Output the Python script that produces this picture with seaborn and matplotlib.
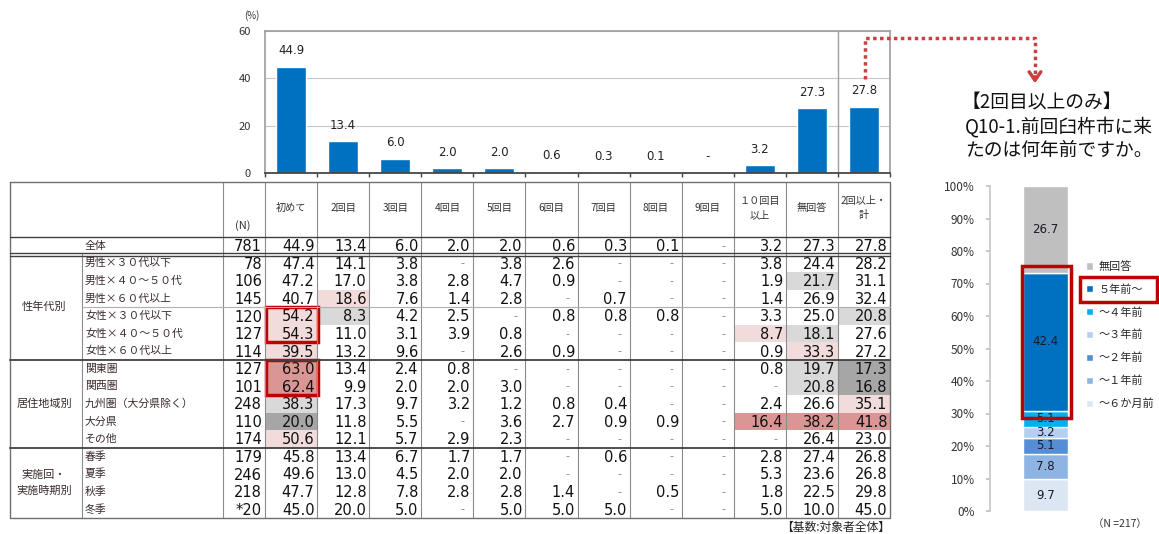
import numpy as np
import pandas as pd
import seaborn as sns
import matplotlib.pyplot as plt
from matplotlib.colors import ListedColormap
from matplotlib.patches import Rectangle

# Data
columns = ['初めて', '2回目', '3回目', '4回目', '5回目', '6回目', '7回目', '8回目',
           '9回目', '１０回目\n以上', '無回答', '2回以上・\n計']
row_labels = ['全体', '男性×３０代以下', '男性×４０～５０代', '男性×６０代以上',
              '女性×３０代以下', '女性×４０～５０代', '女性×６０代以上',
              '関東圏', '関西圏', '九州圏（大分県除く）', '大分県', 'その他',
              '春季', '夏季', '秋季', '冬季']
n_values = ['781', '78', '106', '145', '120', '127', '114',
            '127', '101', '248', '110', '174', '179', '246', '218', '*20']
group_labels = ['性年代別', '居住地域別', '実施回・\n実施時期別']
group_rows = [(1, 7), (7, 12), (12, 16)]

N = None
table_values = [
    [44.9, 13.4, 6.0, 2.0, 2.0, 0.6, 0.3, 0.1, N, 3.2, 27.3, 27.8],
    [47.4, 14.1, 3.8, N, 3.8, 2.6, N, N, N, 3.8, 24.4, 28.2],
    [47.2, 17.0, 3.8, 2.8, 4.7, 0.9, N, N, N, 1.9, 21.7, 31.1],
    [40.7, 18.6, 7.6, 1.4, 2.8, N, 0.7, N, N, 1.4, 26.9, 32.4],
    [54.2, 8.3, 4.2, 2.5, N, 0.8, 0.8, 0.8, N, 3.3, 25.0, 20.8],
    [54.3, 11.0, 3.1, 3.9, 0.8, N, N, N, N, 8.7, 18.1, 27.6],
    [39.5, 13.2, 9.6, N, 2.6, 0.9, N, N, N, 0.9, 33.3, 27.2],
    [63.0, 13.4, 2.4, 0.8, N, N, N, N, N, 0.8, 19.7, 17.3],
    [62.4, 9.9, 2.0, 2.0, 3.0, N, N, N, N, N, 20.8, 16.8],
    [38.3, 17.3, 9.7, 3.2, 1.2, 0.8, 0.4, N, N, 2.4, 26.6, 35.1],
    [20.0, 11.8, 5.5, N, 3.6, 2.7, 0.9, 0.9, N, 16.4, 38.2, 41.8],
    [50.6, 12.1, 5.7, 2.9, 2.3, N, N, N, N, N, 26.4, 23.0],
    [45.8, 13.4, 6.7, 1.7, 1.7, N, 0.6, N, N, 2.8, 27.4, 26.8],
    [49.6, 13.0, 4.5, 2.0, 2.0, N, N, N, N, 5.3, 23.6, 26.8],
    [47.7, 12.8, 7.8, 2.8, 2.8, 1.4, N, 0.5, N, 1.8, 22.5, 29.8],
    [45.0, 20.0, 5.0, N, 5.0, 5.0, 5.0, N, N, 5.0, 10.0, 45.0],
]

# shading codes: 1 light pink, 2 dark pink, 3 light gray, 4 dark gray
highlight_cells = [
    (3, 1, 1), (4, 0, 1), (4, 1, 3), (5, 0, 1), (5, 9, 1), (5, 10, 3),
    (6, 0, 1), (6, 10, 1), (2, 10, 3), (4, 11, 3),
    (7, 0, 2), (7, 10, 3), (7, 11, 4), (8, 0, 2), (8, 10, 3), (8, 11, 4),
    (9, 0, 3), (9, 11, 1), (10, 0, 4), (10, 9, 2), (10, 10, 2), (10, 11, 2),
    (11, 0, 1),
]
shade_colors = ['#ffffff', '#f2dcdb', '#d99694', '#d9d9d9', '#a6a6a6']

period_labels = ['～６か月前', '～１年前', '～２年前', '～３年前', '～４年前', '５年前～', '無回答']
period_values = [9.7, 7.8, 5.1, 3.2, 5.1, 42.4, 26.7]
period_colors = ['#dce6f2', '#8eb4e3', '#558ed5', '#b4d0f0', '#00b0f0', '#0070c0', '#bfbfbf']

W, H = 1159, 534


def box(x0, y0, x1, y1):
    return [x0 / W, 1 - y1 / H, (x1 - x0) / W, (y1 - y0) / H]


sns.set_theme(style='white')
plt.rcParams['font.family'] = ['Noto Sans CJK JP', 'DejaVu Sans']

fig = plt.figure(figsize=(W / 100, H / 100), dpi=100)

# Top bar chart (overall row)
overall = [v if v is not None else 0 for v in table_values[0]]
df_top = pd.DataFrame({'cat': columns, 'pct': overall})
ax_bar = fig.add_axes(box(265, 31, 890, 173))
sns.barplot(data=df_top, x='cat', y='pct', color='#0070c0', saturation=1,
            width=0.58, ax=ax_bar)
ax_bar.set_xlim(-0.5, 11.5)
ax_bar.set_ylim(0, 60)
ax_bar.set_yticks([0, 20, 40, 60])
ax_bar.set_xticks([])
ax_bar.set_xticks(np.arange(-0.5, 12, 1), minor=True)
ax_bar.tick_params(axis='x', which='minor', length=3, color='#404040', bottom=True)
ax_bar.tick_params(axis='y', labelsize=8, length=0, pad=10, labelcolor='#333333')
ax_bar.set_xlabel('')
ax_bar.set_ylabel('')
ax_bar.yaxis.grid(True, color='#c8c8c8', lw=0.8)
for side in ['left', 'right', 'top']:
    ax_bar.spines[side].set_color('#a0a0a0')
ax_bar.spines['bottom'].set_color('#404040')
ax_bar.axvline(10.5, color='#a0a0a0', lw=1)
for i, v in enumerate(table_values[0]):
    lab = '-' if v is None else f'{v:.1f}'
    ax_bar.annotate(lab, (i, v or 0), xytext=(0, 7), textcoords='offset points',
                    ha='center', va='bottom', fontsize=8.5, family='DejaVu Sans',
                    color='#222222')

# Table cells
codes = np.zeros((len(row_labels), len(columns)))
for r, c, k in highlight_cells:
    codes[r, c] = k
ax_tab = fig.add_axes(box(265, 237, 890, 518))
sns.heatmap(pd.DataFrame(codes), ax=ax_tab, cmap=ListedColormap(shade_colors),
            vmin=-0.5, vmax=4.5, cbar=False, xticklabels=False, yticklabels=False)
for i, row in enumerate(table_values):
    for j, v in enumerate(row):
        if v is None:
            ax_tab.text(j + 0.8, i + 0.5, '-', ha='center', va='center',
                        fontsize=8, color='#808080', family='DejaVu Sans')
        else:
            ax_tab.text(j + 0.95, i + 0.55, f'{v:.1f}', ha='right', va='center',
                        fontsize=10.5, color='#111111', family='DejaVu Sans')

# Stacked bar
ax_stk = fig.add_axes(box(990, 186, 1100, 511))
ax_stk.patch.set_alpha(0)
bottoms = np.concatenate([[0], np.cumsum(period_values)[:-1]])
handles = []
for lab, v, b, c in zip(period_labels, period_values, bottoms, period_colors):
    bars = ax_stk.bar([0], [v], bottom=[b], width=1, color=c, edgecolor='white',
                      lw=1, label=lab)
    handles.append(bars)
    ax_stk.text(0, b + v / 2, f'{v:.1f}', ha='center', va='center', fontsize=8.5,
                color='#1a1a2a', family='DejaVu Sans')
ax_stk.set_xlim(-1.233, 1.211)
ax_stk.set_ylim(0, 100)
ax_stk.set_yticks(np.arange(0, 101, 10))
ax_stk.set_yticklabels([f'{t}%' for t in range(0, 101, 10)])
ax_stk.set_xticks([])
ax_stk.tick_params(axis='y', labelsize=8.5, length=3, color='#c0c0c0', left=True,
                   labelcolor='#333333', pad=8)
for side in ['right', 'top', 'bottom']:
    ax_stk.spines[side].set_visible(False)
ax_stk.spines['left'].set_color('#c8c8c8')

fig.legend(handles[::-1], period_labels[::-1], loc='upper left',
           bbox_to_anchor=(1086 / W, 1 - 261 / H), frameon=False, fontsize=8,
           handlelength=0.6, handleheight=0.6, handletextpad=0.5,
           labelspacing=1.1, borderaxespad=0, borderpad=0)

# Overlay for table frame, labels and annotations
ax_ov = fig.add_axes([0, 0, 1, 1])
ax_ov.set_zorder(10)
ax_ov.set_xlim(0, W)
ax_ov.set_ylim(H, 0)
ax_ov.axis('off')
ax_ov.patch.set_alpha(0)

row_h = (518 - 237) / len(row_labels)
col_w = (890 - 265) / len(columns)
line_c = '#8c8c8c'

for j in range(1, len(columns)):
    x = 265 + j * col_w
    ax_ov.plot([x, x], [182, 518], color=line_c, lw=0.8)
ax_ov.plot([265, 265], [182, 518], color=line_c, lw=0.8)
ax_ov.plot([223, 223], [182, 518], color=line_c, lw=0.8)
ax_ov.plot([82, 82], [254, 518], color=line_c, lw=0.8)
ax_ov.plot([10, 890, 890, 10, 10], [182, 182, 518, 518, 182], color='#707070', lw=1)
ax_ov.plot([10, 890], [237, 237], color='#404040', lw=1)
ax_ov.plot([10, 890], [253, 253], color='#404040', lw=1)
ax_ov.plot([10, 890], [255.5, 255.5], color='#404040', lw=1)
ax_ov.plot([10, 890], [237 + 7 * row_h] * 2, color='#404040', lw=1.3)
ax_ov.plot([10, 890], [237 + 12 * row_h] * 2, color='#404040', lw=1.3)
ax_ov.plot([82, 890], [237 + 4 * row_h] * 2, color='#b0b0b0', lw=0.8)

for j, name in enumerate(columns):
    ax_ov.text(265 + (j + 0.5) * col_w, 208, name, ha='center', va='center',
               fontsize=7.3, color='#333333', linespacing=1.6)
ax_ov.text(243, 226, '(N)', ha='center', va='center', fontsize=8, color='#333333')

for i, (lab, n) in enumerate(zip(row_labels, n_values)):
    y = 237 + (i + 0.5) * row_h
    ax_ov.text(85, y, lab, ha='left', va='center', fontsize=7.8, color='#3a2a2a')
    ax_ov.text(262, y + 1, n, ha='right', va='center', fontsize=10.5,
               color='#111111', family='DejaVu Sans')

for lab, (r0, r1) in zip(group_labels, group_rows):
    y = 237 + (r0 + r1) / 2 * row_h
    ax_ov.text(44, y, lab, ha='center', va='center', fontsize=8,
               color='#3a2a2a', linespacing=1.8)

for y0 in [237 + 4 * row_h, 237 + 7 * row_h]:
    ax_ov.add_patch(Rectangle((266, y0), col_w, 2 * row_h, fill=False,
                              ec='#c00000', lw=2.5))

ax_ov.text(252, 16, '(%)', ha='center', va='center', fontsize=7, color='#333333')
ax_ov.text(890, 527, '【基数:対象者全体】', ha='right', va='center', fontsize=8.5,
           color='#222222')

# Dotted arrow to the right panel
ax_ov.plot([865, 865, 1035, 1035], [79, 38, 38, 76], color='#c84040', lw=2.5,
           ls=(0, (1, 1)))
ax_ov.annotate('', xy=(1035, 86), xytext=(1035, 74),
               arrowprops=dict(arrowstyle='->,head_length=0.5,head_width=0.35',
                               color='#c84040', lw=2.5))

# Right panel title
for y, line in zip([103, 127, 150],
                   ['【2回目以上のみ】', 'Q10-1.前回臼杵市に来', 'たのは何年前ですか。']):
    ax_ov.text(962 if line.startswith('【') else 965, y, line, ha='left',
               va='center', fontsize=13.5, color='#111111')

ax_ov.add_patch(Rectangle((1022, 266), 49, 152, fill=False, ec='#c00000', lw=2.5))
ax_ov.add_patch(Rectangle((1080, 277), 77, 25, fill=False, ec='#c00000', lw=2.5))
ax_ov.text(1120, 524, '（N =217）', ha='center', va='center', fontsize=7.5,
           color='#333333')

fig.savefig('out.png', dpi=100)
